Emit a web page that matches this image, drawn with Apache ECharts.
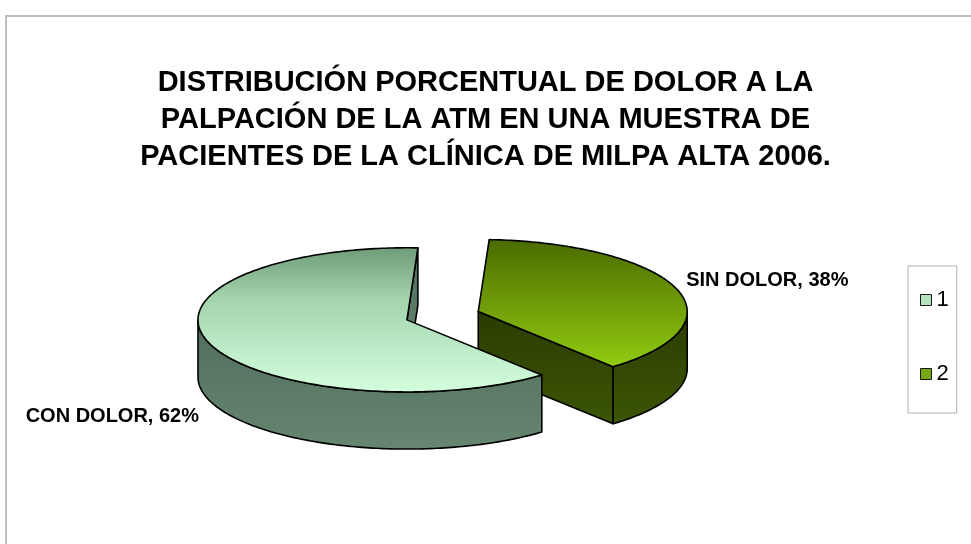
<!DOCTYPE html>
<html>
<head>
<meta charset="utf-8">
<script src="https://cdn.jsdelivr.net/npm/echarts@6/dist/echarts.min.js"></script>
<style>
html,body{margin:0;padding:0;background:#fff;}
#chart{width:971px;height:544px;}
</style>
</head>
<body>
<div id="chart"></div>
<script>
// ---- data ----
const titleLines = [
  'DISTRIBUCIÓN PORCENTUAL DE DOLOR A LA',
  'PALPACIÓN DE LA ATM EN UNA MUESTRA DE',
  'PACIENTES DE LA CLÍNICA DE MILPA ALTA 2006.'
];
const categories = ['CON DOLOR', 'SIN DOLOR'];
const values = [62, 38];
const legendNames = ['1', '2'];
const explodeAmount = [0, 0.36];

// ---- styling ----
const startAngle = 139.8; // degrees clockwise from 12 o'clock
const topColors = [
  [[0, '#6f9c78'], [0.35, '#a3d3ad'], [1, '#d4ffde']],
  [[0, '#4a6a00'], [1, '#92cc12']]
];
const sideColors = [
  [[0, '#4f6f5a'], [1, '#668672']],
  [[0, '#2a3c00'], [1, '#3d5606']]
];
const legendColors = ['#b4e2bc', '#76a812'];
const LABEL_FONT = 'bold 20px "Liberation Sans", Arial, sans-serif';

function grad(stops) {
  return new echarts.graphic.LinearGradient(0, 0, 0, 1,
    stops.map(s => ({ offset: s[0], color: s[1] })));
}

function makeRender(idx) {
  return function (params, api) {
    const W = api.getWidth(), H = api.getHeight();
    const total = values.reduce((a, b) => a + b, 0);
    let acc = 0;
    for (let k = 0; k < idx; k++) acc += values[k];
    const a0 = startAngle + acc / total * 360;
    const a1 = a0 + api.value(0) / total * 360;
    const rx = W * 0.2152, ry = H * 0.1325, depth = H * 0.105;
    const rad = d => d * Math.PI / 180;
    const mid = rad((a0 + a1) / 2);
    const cx = W * 0.4191 + explodeAmount[idx] * rx * Math.sin(mid);
    const cy = H * 0.588 - explodeAmount[idx] * ry * Math.cos(mid);
    const pt = (a, dy) => [cx + rx * Math.sin(rad(a)), cy - ry * Math.cos(rad(a)) + (dy || 0)];
    const arc = (s, e, dy) => {
      const pts = [];
      const n = Math.max(2, Math.ceil(Math.abs(e - s)));
      for (let j = 0; j <= n; j++) pts.push(pt(s + (e - s) * j / n, dy));
      return pts;
    };
    const stroke = { stroke: '#000', lineWidth: 1.6, lineJoin: 'round' };
    const children = [];
    const faceFill = grad(sideColors[idx]);
    if (Math.sin(rad(a0)) < 0) {
      const p = pt(a0);
      children.push({ type: 'polygon', shape: { points: [[cx, cy], p, [p[0], p[1] + depth], [cx, cy + depth]] },
        style: Object.assign({ fill: faceFill }, stroke) });
    }
    if (Math.sin(rad(a1)) > 0) {
      const p = pt(a1);
      children.push({ type: 'polygon', shape: { points: [[cx, cy], p, [p[0], p[1] + depth], [cx, cy + depth]] },
        style: Object.assign({ fill: faceFill }, stroke) });
    }
    for (let k = -1; k <= 2; k++) {
      const s = Math.max(a0, 90 + 360 * k), e = Math.min(a1, 270 + 360 * k);
      if (e > s) {
        const pts = arc(s, e, 0).concat(arc(e, s, depth));
        children.push({ type: 'polygon', shape: { points: pts },
          style: Object.assign({ fill: grad(sideColors[idx]) }, stroke) });
      }
    }
    const topPts = [[cx, cy]].concat(arc(a0, a1, 0));
    children.push({ type: 'polygon', shape: { points: topPts },
      style: Object.assign({ fill: grad(topColors[idx]) }, stroke) });
    const sm = Math.sin(mid), cm = Math.cos(mid);
    const lx = cx + rx * 1.05 * sm;
    const ly = cy - ry * 1.35 * cm + (cm < 0 ? depth * 1.15 : 0);
    const align = sm >= 0 ? 'left' : 'right';
    children.push({ type: 'text', x: lx, y: ly,
      style: { text: categories[idx] + ', ' + values[idx] + '%', fill: '#000',
        font: LABEL_FONT, align: align, textAlign: align,
        verticalAlign: 'middle', textVerticalAlign: 'middle' } });
    return { type: 'group', children: children };
  };
}

const chart = echarts.init(document.getElementById('chart'), null, { renderer: 'canvas' });
chart.setOption({
  backgroundColor: '#fff',
  animation: false,
  graphic: [{
    type: 'rect', left: 5, top: 15, z: -1,
    shape: { width: 1000, height: 600 },
    style: { fill: '#fff', stroke: '#bfbfbf', lineWidth: 2 }
  }],
  title: {
    text: titleLines.join('\n'),
    left: 'center', top: 59,
    textStyle: { fontFamily: '"Liberation Sans", Arial, sans-serif',
      fontWeight: 'bold', fontSize: 29, lineHeight: 37, color: '#000', align: 'center' }
  },
  legend: {
    orient: 'vertical', left: 908, top: 266,
    data: legendNames,
    icon: 'rect', itemWidth: 11, itemHeight: 11, itemGap: 52, itemTextGap: 9,
    padding: [23, 8, 28, 12],
    borderColor: '#b0b0b0', borderWidth: 1,
    itemStyle: { borderColor: '#1a1a1a', borderWidth: 1 },
    textStyle: { fontFamily: '"Liberation Sans", Arial, sans-serif', fontSize: 22, lineHeight: 18, color: '#000' }
  },
  series: values.map((v, i) => ({
    type: 'custom', name: legendNames[i], coordinateSystem: 'none',
    z: i === 0 ? 3 : 2,
    itemStyle: { color: legendColors[i] },
    renderItem: makeRender(i),
    data: [[v]]
  }))
});
</script>
</body>
</html>
